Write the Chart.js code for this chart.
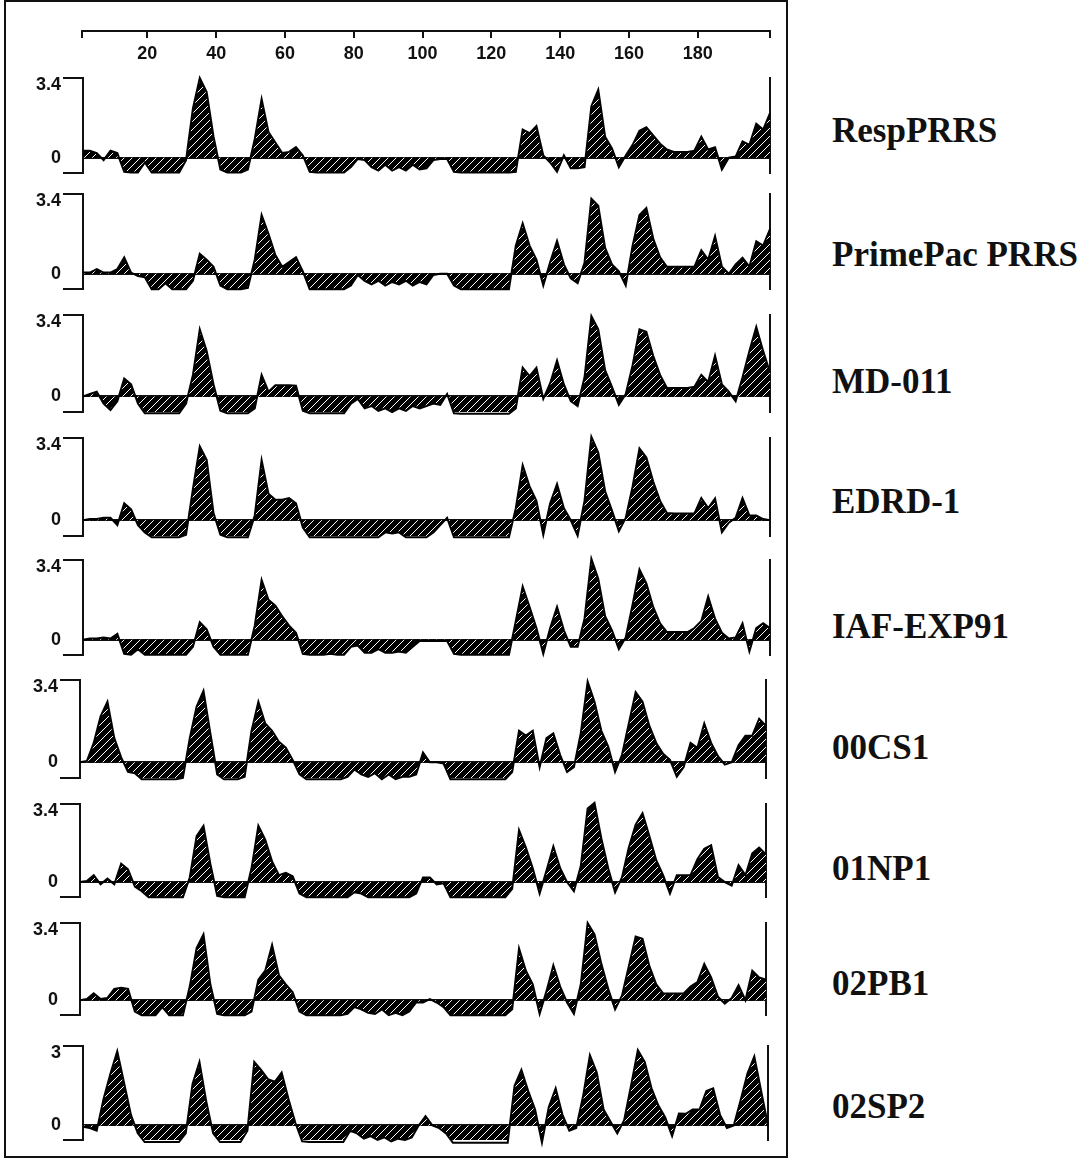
<!DOCTYPE html>
<html>
<head>
<meta charset="utf-8">
<script src="https://cdn.jsdelivr.net/npm/chart.js@4.4.1/dist/chart.umd.min.js"></script>
<style>
  body { margin: 0; background: #fff; width: 1091px; height: 1160px; position: relative; overflow: hidden; }
  canvas { position: absolute; }
  .frame { position: absolute; left: 4px; top: 0; width: 784px; height: 1158px; border: 2px solid #111; box-sizing: border-box; }
  .name { position: absolute; left: 832px; font: bold 35px "Liberation Serif", "Times New Roman", serif; line-height: 34px; height: 34px; color: #111; white-space: nowrap; }
</style>
</head>
<body>
<div class="frame"></div>
<div id="wrap"></div>
<script>
// residue positions (x) and top axis ticks
const residues = [1,3,5,7,9,11,13,15,17,19,21,23,25,27,29,31,33,35,37,39,41,43,45,47,49,51,53,55,57,59,61,63,65,67,69,71,73,75,77,79,81,83,85,87,89,91,93,95,97,99,101,103,105,107,109,111,113,115,117,119,121,123,125,127,129,131,133,135,137,139,141,143,145,147,149,151,153,155,157,159,161,163,165,167,169,171,173,175,177,179,181,183,185,187,189,191,193,195,197,199,201];
const axisTicks = [1, 20, 40, 60, 80, 100, 120, 140, 160, 180, 201];

const strainNames = ["RespPRRS", "PrimePac PRRS", "MD-011", "EDRD-1", "IAF-EXP91", "00CS1", "01NP1", "02PB1", "02SP2"];
const scaleTops = [3.4, 3.4, 3.4, 3.4, 3.4, 3.4, 3.4, 3.4, 3];
const scaleBottoms = [-0.65, -0.65, -0.65, -0.65, -0.65, -0.65, -0.65, -0.65, -0.55];

// hydrophilicity values per strain
const respPRRS = [0.3,0.3,0.2,-0.1,0.3,0.2,-0.6,-0.63,-0.63,-0.2,
  -0.63,-0.63,-0.63,-0.63,-0.63,-0.1,2.1,3.4,2.8,0.9,
  -0.5,-0.63,-0.63,-0.63,-0.5,0.8,2.5,1.1,0.65,0.2,
  0.25,0.45,0.1,-0.6,-0.63,-0.63,-0.63,-0.63,-0.63,-0.4,
  -0.05,-0.1,-0.4,-0.55,-0.3,-0.55,-0.4,-0.55,-0.3,-0.5,
  -0.45,-0.1,-0.05,-0.05,-0.6,-0.63,-0.63,-0.63,-0.63,-0.63,
  -0.63,-0.63,-0.63,-0.6,1.2,1.05,1.35,0.1,-0.2,-0.6,
  0.1,-0.45,-0.45,-0.4,2.2,2.9,0.9,0.4,-0.4,0.1,
  0.55,1.15,1.3,0.95,0.6,0.35,0.25,0.25,0.25,0.3,
  0.9,0.35,0.45,-0.5,0,0.05,0.7,0.55,1.45,1.2,1.9];
const primePac = [0.05,0.05,0.2,0.05,0.05,0.2,0.7,0.05,-0.1,-0.15,
  -0.66,-0.66,-0.4,-0.66,-0.66,-0.66,-0.3,0.85,0.6,0.3,
  -0.5,-0.66,-0.66,-0.66,-0.6,0.6,2.5,1.7,0.8,0.3,
  0.5,0.7,0.1,-0.66,-0.66,-0.66,-0.66,-0.66,-0.66,-0.5,
  -0.05,-0.3,-0.45,-0.3,-0.5,-0.35,-0.45,-0.3,-0.5,-0.35,
  -0.45,-0.05,0,0,-0.5,-0.66,-0.66,-0.66,-0.66,-0.66,
  -0.66,-0.66,-0.66,1.2,2.15,1.2,0.6,-0.5,0.5,1.4,
  0.4,-0.2,-0.4,0.47,3.2,2.9,1.1,0.4,0.1,-0.5,
  1.2,2.5,2.8,1.5,0.7,0.3,0.3,0.3,0.3,0.3,
  1.0,0.6,1.6,0.3,0,0.4,0.68,0.3,1.38,1.2,1.9];
const md011 = [0,0.1,0.2,-0.3,-0.57,-0.2,0.75,0.5,-0.3,-0.7,
  -0.7,-0.7,-0.7,-0.7,-0.7,-0.3,0.9,2.8,1.9,0.5,
  -0.6,-0.7,-0.7,-0.7,-0.7,-0.5,0.9,0.2,0.47,0.47,
  0.47,0.45,-0.6,-0.7,-0.7,-0.7,-0.7,-0.7,-0.7,-0.3,
  -0.1,-0.5,-0.4,-0.6,-0.5,-0.65,-0.5,-0.6,-0.4,-0.5,
  -0.4,-0.3,-0.35,0.1,-0.7,-0.72,-0.72,-0.72,-0.72,-0.72,
  -0.72,-0.72,-0.72,-0.5,1.2,0.85,1.2,-0.1,0.55,1.5,
  0.5,-0.2,-0.4,0.8,3.35,2.8,1.1,0.4,-0.35,0.1,
  1.3,2.8,2.7,1.7,0.9,0.35,0.35,0.35,0.35,0.4,
  0.9,0.6,1.7,0.5,0.2,-0.2,0.8,1.9,2.9,1.9,1.0];
const edrd1 = [0,0.05,0.05,0.1,0.1,-0.2,0.7,0.45,-0.2,-0.5,
  -0.7,-0.7,-0.7,-0.7,-0.7,-0.6,1.3,3.05,2.5,0.3,
  -0.6,-0.7,-0.7,-0.7,-0.7,0.2,2.48,1.1,0.85,0.85,
  0.92,0.7,-0.3,-0.7,-0.7,-0.7,-0.7,-0.7,-0.7,-0.7,
  -0.7,-0.7,-0.7,-0.7,-0.5,-0.55,-0.5,-0.7,-0.7,-0.7,
  -0.7,-0.5,-0.2,0.1,-0.7,-0.7,-0.7,-0.7,-0.7,-0.7,
  -0.7,-0.7,-0.7,0.5,2.27,1.4,0.8,-0.6,0.7,1.5,
  0.5,0,-0.64,0.8,3.45,2.8,1.2,0.4,-0.45,0.1,
  1.4,2.97,2.6,1.6,0.8,0.3,0.28,0.28,0.28,0.28,
  0.92,0.5,0.9,-0.5,-0.1,0.1,0.92,0.2,0.2,0.05,0];
const iafExp91 = [0,0.05,0.05,0.1,0.05,0.25,-0.6,-0.64,-0.4,-0.64,
  -0.64,-0.64,-0.64,-0.64,-0.64,-0.64,-0.3,0.75,0.45,-0.3,
  -0.64,-0.64,-0.64,-0.64,-0.64,0.6,2.55,1.7,1.45,1.0,
  0.6,0.3,-0.6,-0.64,-0.64,-0.64,-0.6,-0.64,-0.64,-0.3,
  -0.25,-0.55,-0.55,-0.4,-0.55,-0.55,-0.5,-0.55,-0.3,-0.05,
  -0.05,-0.05,-0.05,-0.05,-0.6,-0.64,-0.64,-0.64,-0.64,-0.64,
  -0.64,-0.64,-0.64,0.8,2.27,1.4,0.5,-0.6,0.5,1.4,
  0.4,-0.3,-0.3,0.9,3.45,2.6,1.0,0.4,-0.4,0.1,
  1.5,3.0,2.4,1.4,0.7,0.33,0.33,0.33,0.33,0.5,
  0.8,1.84,0.9,0.3,0.05,0.1,0.7,-0.5,0.5,0.7,0.5];
const cs1 = [0,0.05,0.8,1.9,2.5,1.0,0.2,-0.4,-0.45,-0.7,
  -0.7,-0.7,-0.7,-0.7,-0.7,-0.65,1.0,2.3,2.95,1.2,
  -0.5,-0.7,-0.7,-0.7,-0.6,1.3,2.5,1.6,1.3,0.85,
  0.6,0.1,-0.5,-0.7,-0.7,-0.7,-0.7,-0.7,-0.7,-0.6,
  -0.3,-0.5,-0.6,-0.45,-0.7,-0.5,-0.7,-0.6,-0.6,-0.5,
  0.4,0,0,-0.05,-0.7,-0.7,-0.7,-0.7,-0.7,-0.7,
  -0.7,-0.7,-0.7,-0.4,1.3,1.1,1.3,-0.2,1.0,1.2,
  0.3,-0.4,-0.2,1.2,3.33,2.5,1.3,0.65,-0.4,0.3,
  1.6,2.9,2.5,1.5,0.8,0.35,0.1,-0.6,-0.2,0.8,
  0.6,1.6,0.8,0.25,-0.1,0,0.7,1.1,1.1,1.8,1.5];
const np1 = [0,0.05,0.3,-0.1,0.15,-0.1,0.8,0.55,-0.2,-0.4,
  -0.66,-0.66,-0.66,-0.66,-0.66,-0.66,0.2,2.0,2.45,0.8,
  -0.6,-0.66,-0.66,-0.66,-0.66,0.6,2.45,1.85,0.9,0.3,
  0.4,0.25,-0.5,-0.66,-0.66,-0.66,-0.66,-0.66,-0.66,-0.66,
  -0.44,-0.5,-0.66,-0.66,-0.66,-0.66,-0.66,-0.66,-0.66,-0.5,
  0.2,0.2,-0.1,-0.05,-0.66,-0.66,-0.66,-0.66,-0.66,-0.66,
  -0.66,-0.66,-0.66,-0.3,2.26,1.5,0.6,-0.5,0.5,1.55,
  0.6,0,-0.4,0.7,3.2,3.45,1.9,0.6,-0.45,0.2,
  1.5,2.5,3.0,2.0,0.95,0.3,-0.5,0.3,0.3,0.3,
  1.0,1.45,1.6,0.22,0,-0.15,0.73,0.3,1.25,1.5,1.2];
const pb1 = [0,0.05,0.3,0.05,0.1,0.5,0.55,0.5,-0.5,-0.66,
  -0.66,-0.66,-0.3,-0.66,-0.66,-0.66,0.6,2.3,2.9,0.7,
  -0.6,-0.66,-0.66,-0.66,-0.66,-0.5,0.9,1.3,2.43,1.1,
  0.7,0.35,-0.5,-0.66,-0.66,-0.66,-0.66,-0.66,-0.66,-0.6,
  -0.3,-0.4,-0.55,-0.6,-0.4,-0.66,-0.55,-0.66,-0.5,-0.1,
  -0.1,0.05,-0.1,-0.3,-0.66,-0.66,-0.66,-0.66,-0.66,-0.66,
  -0.66,-0.66,-0.66,-0.4,2.28,1.3,0.7,-0.6,0.4,1.54,
  0.6,-0.1,-0.6,0.7,3.4,2.9,1.6,0.5,-0.4,0.2,
  1.5,2.8,2.7,1.5,0.7,0.3,0.3,0.3,0.3,0.6,
  0.8,1.6,1.0,0.15,-0.15,0.1,0.66,0,1.3,1.0,0.9];
const sp2 = [-0.05,-0.1,-0.2,1.0,1.95,2.8,1.6,0.4,-0.3,-0.63,
  -0.63,-0.63,-0.63,-0.63,-0.63,-0.3,1.58,2.4,0.9,-0.3,
  -0.63,-0.63,-0.63,-0.63,-0.2,2.4,2.1,1.75,1.65,2.0,
  1.0,0.1,-0.6,-0.63,-0.63,-0.63,-0.63,-0.63,-0.63,-0.2,
  -0.3,-0.5,-0.4,-0.55,-0.45,-0.6,-0.5,-0.55,-0.45,0,
  0.35,0,-0.1,-0.3,-0.65,-0.65,-0.65,-0.65,-0.65,-0.65,
  -0.65,-0.65,-0.65,1.5,2.1,1.3,0.6,-0.65,0.7,1.4,
  0.4,-0.2,-0.1,1.1,2.65,2.0,0.6,0.15,-0.3,0.2,
  1.5,2.85,2.4,1.4,0.75,0.3,-0.4,0.45,0.44,0.6,
  0.6,1.3,1.4,0.4,-0.1,0,0.95,1.96,2.6,1.3,0];

const allSeries = [respPRRS, primePac, md011, edrd1, iafExp91, cs1, np1, pb1, sp2];

// page layout of each panel (plot area in page px)
const panelTop = [78, 194, 315, 438, 560, 680, 804, 923, 1046];
const panelBottom = [173, 289, 412, 536, 655, 778, 897, 1015, 1140];
const panelLeft = [83, 83, 83, 83, 83, 80, 80, 80, 83];
const panelRight = [770, 770, 770, 770, 770, 766, 766, 766, 768];
const nameY = [131, 255, 382, 502, 627, 748, 869, 984, 1107];

const AXIS_W = 83;
const PAD = 20;
const wrap = document.getElementById("wrap");

// hatch fill like the printed figure (mostly black, thin white slashes)
function makeHatch() {
    const n = 8;
    const tile = document.createElement("canvas");
    tile.width = n;
    tile.height = n;
    const t = tile.getContext("2d");
    t.fillStyle = "#000";
    t.fillRect(0, 0, n, n);
    t.strokeStyle = "#fff";
    t.lineWidth = 1;
    t.beginPath();
    t.moveTo(0, n); t.lineTo(n, 0);
    t.moveTo(-1, 1); t.lineTo(1, -1);
    t.moveTo(n - 1, n + 1); t.lineTo(n + 1, n - 1);
    t.stroke();
    return t.createPattern(tile, "repeat");
}
const hatch = makeHatch();

function addCanvas(left, top, w, h) {
    const c = document.createElement("canvas");
    c.width = w;
    c.height = h;
    c.style.left = left + "px";
    c.style.top = top + "px";
    wrap.appendChild(c);
    return c;
}

// residue axis on top
function createTopAxis() {
    const c = addCanvas(0, 0, 776, 80);
    new Chart(c, {
        type: "line",
        data: { datasets: [] },
        options: {
            responsive: false,
            animation: false,
            events: [],
            layout: { padding: { left: 82, right: 6, top: 10, bottom: 0 } },
            plugins: { legend: { display: false }, tooltip: { enabled: false } },
            scales: {
                y: { display: false },
                x: {
                    type: "linear",
                    position: "bottom",
                    min: 1,
                    max: 201,
                    afterBuildTicks: (s) => { s.ticks = axisTicks.map((v) => ({ value: v })); },
                    afterFit: (s) => { s.height = 49; },
                    ticks: {
                        autoSkip: false,
                        maxRotation: 0,
                        padding: 5,
                        color: "#111",
                        font: { family: "Liberation Sans", size: 18, weight: "bold" },
                        callback: (v) => (v === 1 || v === 201 ? "" : String(v)),
                    },
                    grid: { drawOnChartArea: false, tickLength: 7, lineWidth: 2, color: "#111" },
                    border: { display: true, color: "#111", width: 2 },
                },
            },
        },
    });
}

function createPanel(i) {
    const yMax = scaleTops[i];
    const yMin = scaleBottoms[i];
    const w = panelRight[i] - panelLeft[i] + AXIS_W + 6;
    const h = panelBottom[i] - panelTop[i] + PAD * 2;
    const c = addCanvas(panelLeft[i] - AXIS_W, panelTop[i] - PAD, w, h);
    const values = allSeries[i];
    const points = residues.map((r, k) => ({ x: r, y: values[k] }));

    new Chart(c, {
        type: "line",
        data: {
            datasets: [{
                label: strainNames[i],
                data: points,
                borderColor: "#000",
                borderWidth: 2,
                backgroundColor: hatch,
                fill: "origin",
                pointRadius: 0,
                tension: 0,
                clip: false,
            }],
        },
        options: {
            responsive: false,
            animation: false,
            events: [],
            layout: { padding: { left: 0, right: 6, top: PAD, bottom: PAD } },
            plugins: { legend: { display: false }, tooltip: { enabled: false } },
            scales: {
                x: { type: "linear", min: 1, max: 201, display: false },
                y: {
                    min: yMin,
                    max: yMax,
                    afterBuildTicks: (s) => { s.ticks = [{ value: yMin }, { value: 0 }, { value: yMax }]; },
                    afterFit: (s) => { s.width = AXIS_W; },
                    ticks: {
                        autoSkip: false,
                        padding: 2,
                        color: "#111",
                        font: { family: "Liberation Sans", size: 18, weight: "bold", lineHeight: 0.8 },
                        callback: (v) => (v === yMax ? ["", String(yMax)] : v === 0 ? "0" : ""),
                    },
                    grid: {
                        drawOnChartArea: true,
                        tickLength: 20,
                        lineWidth: 2,
                        color: (ctx) => (ctx.tick && ctx.tick.value === 0 ? "#111" : "rgba(0,0,0,0)"),
                        tickColor: (ctx) => (ctx.tick && ctx.tick.value === 0 ? "rgba(0,0,0,0)" : "#111"),
                    },
                    border: { display: true, color: "#111", width: 2 },
                },
                y2: {
                    position: "right",
                    min: yMin,
                    max: yMax,
                    afterFit: (s) => { s.width = 0; },
                    ticks: { display: false },
                    grid: { display: false, drawTicks: false },
                    border: { display: true, color: "#111", width: 2 },
                },
            },
        },
    });

    const label = document.createElement("div");
    label.className = "name";
    label.style.top = nameY[i] - 17 + "px";
    label.textContent = strainNames[i];
    wrap.appendChild(label);
}

createTopAxis();
for (let i = 0; i < allSeries.length; i++) {
    createPanel(i);
}
</script>
</body>
</html>
